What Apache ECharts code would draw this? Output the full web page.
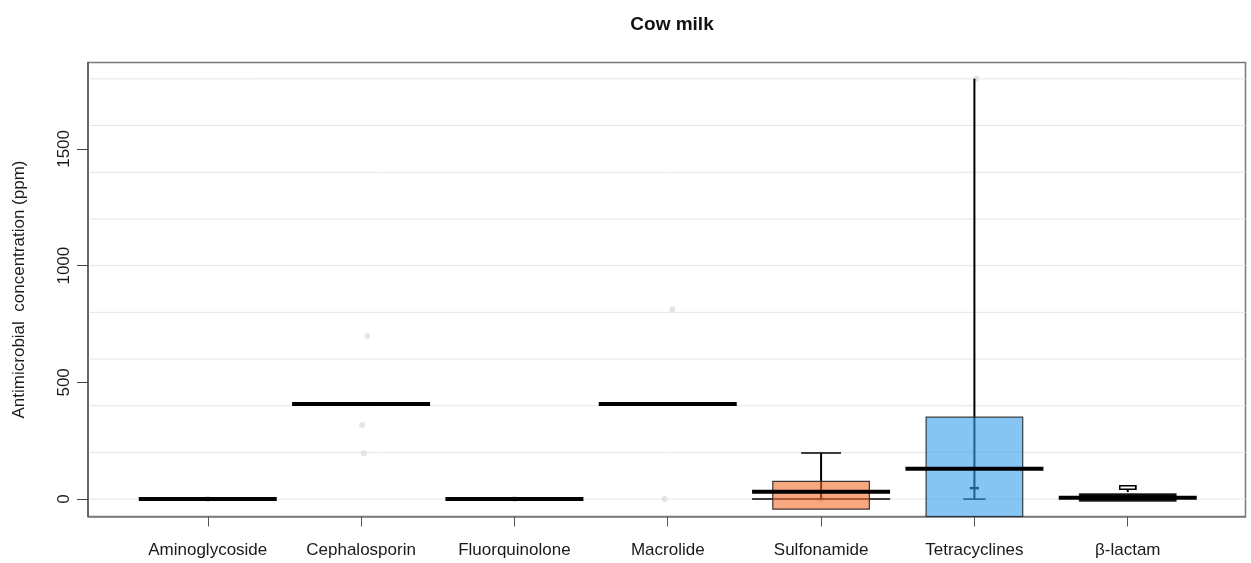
<!DOCTYPE html>
<html>
<head>
<meta charset="utf-8">
<script src="https://cdn.jsdelivr.net/npm/echarts@6/dist/echarts.min.js"></script>
<style>
html,body{margin:0;padding:0;background:#fff;}
#chart{width:1251px;height:563px;}
</style>
</head>
<body>
<div id="chart"></div>
<script>
// ---- data ----
const categories = ['Aminoglycoside', 'Cephalosporin', 'Fluorquinolone', 'Macrolide', 'Sulfonamide', 'Tetracyclines', 'β-lactam'];
const yTickValues = [0, 500, 1000, 1500];
const gridValues = [0, 200, 400, 600, 800, 1000, 1200, 1400, 1600, 1800];
const meanValues = [0, 407, 0, 407, 31, 130, 6];
const bandLow = [null, null, null, null, -43, -150, -9];
const bandHigh = [null, null, null, null, 76, 351, 23];
const whiskerLow = [null, null, null, null, 0, 0, 30];
const whiskerHigh = [null, null, null, null, 197, 1800, 43];
const upperStaple = [null, null, null, null, 197, null, null];
const lowerStaple = [null, null, null, null, null, 0, null];
const boxLow = [null, null, null, null, null, 45, 42];
const boxHigh = [null, null, null, null, null, 49, 57];
const baseLine = [null, null, null, null, 0, null, null];
const pointValues = [[0, 0], [699, 317, 196], [0, 0], [812, 0], [0, 0], [1800], [6]];
const pointJitter = [[0, 0], [0.04, 0.007, 0.018], [0, 0], [0.03, -0.02], [0, 0], [0.012], [0]];

// ---- styles ----
const bandColors = [null, null, null, null, 'rgba(242,110,43,0.6)', 'rgba(52,157,235,0.6)', 'rgba(0,0,0,0.96)'];
const boxFill = [null, null, null, null, null, 'none', '#ffffff'];
const S = { meanHalf: 0.45, bandHalf: 0.315, stapleHalf: [0, 0, 0, 0, 0.13, 0.073, 0], boxHalf: [0, 0, 0, 0, 0, 0.025, 0.052] };
const Y_MIN = -74.5, Y_MAX = 1870;
const FONT = 'Liberation Sans, Arial, sans-serif';

const chart = echarts.init(document.getElementById('chart'), null, { renderer: 'canvas' });
const idxData = categories.map((c, i) => [i + 1]);

const scatterData = [];
pointValues.forEach((arr, i) => arr.forEach((v, k) => scatterData.push([i + 1 + pointJitter[i][k], v])));

function line(api, x1, y1, x2, y2, style) {
  const a = api.coord([x1, y1]), b = api.coord([x2, y2]);
  return { type: 'line', shape: { x1: a[0], y1: a[1], x2: b[0], y2: b[1] }, style: style };
}

const option = {
  backgroundColor: '#ffffff',
  animation: false,
  title: {
    text: 'Cow milk', left: 667, top: 10, textAlign: 'center',
    textStyle: { fontFamily: FONT, fontSize: 19, fontWeight: 'bold', color: '#111' }
  },
  grid: { left: 88, right: 5.5, top: 62.5, bottom: 46.5, show: true, borderColor: '#7a7a7a', borderWidth: 1.5, backgroundColor: 'transparent' },
  xAxis: {
    type: 'value', min: 0.219, max: 7.768,
    axisLine: { show: true, onZero: false, lineStyle: { color: '#7a7a7a', width: 1.5 } },
    axisTick: { show: true, customValues: categories.map((c, i) => i + 1), length: 10, lineStyle: { color: '#555', width: 1 } },
    axisLabel: {
      customValues: categories.map((c, i) => i + 1), margin: 25,
      formatter: v => categories[Math.round(v) - 1] || '',
      fontFamily: FONT, fontSize: 17, color: '#1a1a1a'
    },
    splitLine: { show: false }
  },
  yAxis: {
    type: 'value', min: Y_MIN, max: Y_MAX,
    name: 'Antimicrobial  concentration (ppm)', nameLocation: 'middle', nameGap: 60, nameRotate: 90,
    nameTextStyle: { fontFamily: FONT, fontSize: 17, color: '#1a1a1a' },
    axisLine: { show: true, onZero: false, lineStyle: { color: '#555', width: 1.5 } },
    axisTick: { show: true, customValues: yTickValues, length: 11, lineStyle: { color: '#444', width: 1 } },
    axisLabel: { customValues: yTickValues, rotate: 90, margin: 15, formatter: v => String(v), fontFamily: FONT, fontSize: 17, color: '#1a1a1a' },
    splitLine: { show: false }
  },
  series: [
    {
      // horizontal gridlines
      type: 'custom', z: 0, silent: true, data: gridValues.map(v => [v]),
      encode: { y: 0 },
      renderItem(params, api) {
        const cs = params.coordSys;
        const y = api.coord([1, api.value(0)])[1];
        return { type: 'line', shape: { x1: cs.x, y1: y, x2: cs.x + cs.width, y2: y }, style: { stroke: '#e6e6e6', lineWidth: 1 } };
      }
    },
    {
      type: 'scatter', z: 1, data: scatterData, symbolSize: 6, silent: true,
      itemStyle: { color: '#dddddd' }
    },
    {
      type: 'custom', z: 2, data: idxData, silent: true,
      renderItem(params, api) {
        const i = params.dataIndex, x = i + 1, children = [];
        const blk = { stroke: '#000', lineWidth: 1.5 };
        if (baseLine[i] != null) children.push(line(api, x - S.meanHalf, baseLine[i], x + S.meanHalf, baseLine[i], { stroke: '#000', lineWidth: 1.5 }));
        if (whiskerLow[i] != null) children.push(line(api, x, whiskerLow[i], x, whiskerHigh[i], { stroke: '#000', lineWidth: 2 }));
        if (upperStaple[i] != null) children.push(line(api, x - S.stapleHalf[i], upperStaple[i], x + S.stapleHalf[i], upperStaple[i], blk));
        if (lowerStaple[i] != null) children.push(line(api, x - S.stapleHalf[i], lowerStaple[i], x + S.stapleHalf[i], lowerStaple[i], blk));
        if (boxLow[i] != null) {
          const a = api.coord([x - S.boxHalf[i], boxHigh[i]]), b = api.coord([x + S.boxHalf[i], boxLow[i]]);
          children.push({ type: 'rect', shape: { x: a[0], y: a[1], width: b[0] - a[0], height: b[1] - a[1] }, style: { fill: boxFill[i], stroke: '#000', lineWidth: 1.5 }, z2: 10 });
        }
        return { type: 'group', children };
      }
    },
    {
      type: 'custom', z: 3, data: idxData, silent: true,
      renderItem(params, api) {
        const i = params.dataIndex, x = i + 1;
        if (bandLow[i] == null) return null;
        const lo = Math.max(bandLow[i], Y_MIN), hi = Math.min(bandHigh[i], Y_MAX);
        const a = api.coord([x - S.bandHalf, hi]), b = api.coord([x + S.bandHalf, lo]);
        return { type: 'rect', shape: { x: a[0], y: a[1], width: b[0] - a[0], height: b[1] - a[1] }, style: { fill: bandColors[i], stroke: 'rgba(40,40,40,0.9)', lineWidth: 1.2 } };
      }
    },
    {
      type: 'custom', z: 4, data: idxData, silent: true,
      renderItem(params, api) {
        const i = params.dataIndex, x = i + 1;
        if (meanValues[i] == null) return null;
        return line(api, x - S.meanHalf, meanValues[i], x + S.meanHalf, meanValues[i], { stroke: '#000', lineWidth: 4 });
      }
    },
    {
      type: 'custom', z: 5, data: idxData, silent: true,
      renderItem(params, api) {
        const i = params.dataIndex, x = i + 1;
        if (boxLow[i] == null || boxFill[i] === 'none') return null;
        const a = api.coord([x - S.boxHalf[i], boxHigh[i]]), b = api.coord([x + S.boxHalf[i], boxLow[i]]);
        return { type: 'rect', shape: { x: a[0], y: a[1], width: b[0] - a[0], height: b[1] - a[1] }, style: { fill: boxFill[i], stroke: '#000', lineWidth: 1.5 } };
      }
    }
  ]
};
chart.setOption(option);
</script>
</body>
</html>
